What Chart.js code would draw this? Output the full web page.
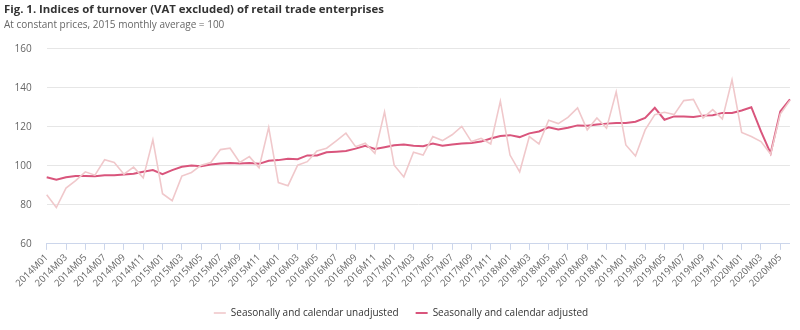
<!DOCTYPE html>
<html><head><meta charset="utf-8">
<script src="https://cdn.jsdelivr.net/npm/chart.js@4.4.1/dist/chart.umd.min.js"></script>
<style>html,body{margin:0;padding:0;background:#fff;} #wrap{width:800px;height:330px;position:relative;}</style>
</head><body><div id="wrap"><canvas id="c"></canvas></div>
<script>
const categories = [
"2014M01","2014M02","2014M03","2014M04","2014M05","2014M06","2014M07","2014M08","2014M09","2014M10","2014M11","2014M12",
"2015M01","2015M02","2015M03","2015M04","2015M05","2015M06","2015M07","2015M08","2015M09","2015M10","2015M11","2015M12",
"2016M01","2016M02","2016M03","2016M04","2016M05","2016M06","2016M07","2016M08","2016M09","2016M10","2016M11","2016M12",
"2017M01","2017M02","2017M03","2017M04","2017M05","2017M06","2017M07","2017M08","2017M09","2017M10","2017M11","2017M12",
"2018M01","2018M02","2018M03","2018M04","2018M05","2018M06","2018M07","2018M08","2018M09","2018M10","2018M11","2018M12",
"2019M01","2019M02","2019M03","2019M04","2019M05","2019M06","2019M07","2019M08","2019M09","2019M10","2019M11","2019M12",
"2020M01","2020M02","2020M03","2020M04","2020M05","2020M06"];
const unadjusted = [
85.2,78.6,88.6,92.4,96.9,95.2,103.1,101.7,95.7,99.3,93.8,113.3,
85.7,82.1,94.7,96.6,100.3,101.7,108.3,109.0,101.7,104.7,99.0,119.7,
91.4,89.8,100.3,102.1,107.6,109.0,112.8,116.7,109.8,111.6,106.4,127.6,
100.3,94.3,106.9,105.5,115.0,112.9,115.9,120.2,112.4,114.1,111.2,133.1,
105.5,96.9,115.0,111.2,123.3,121.6,124.8,129.7,118.4,124.5,119.3,137.9,
110.7,105.0,118.4,126.2,127.4,126.2,133.4,134.0,124.5,128.8,124.0,144.0,
117.1,115.0,112.4,106.0,126.5,133.5];
const adjusted = [
94.1,92.8,94.1,94.8,94.8,94.7,95.2,95.2,95.5,95.9,96.9,97.8,
95.7,97.8,99.5,100.2,99.8,100.7,101.2,101.4,101.2,101.4,101.0,102.6,
102.9,103.6,103.4,105.3,105.3,106.9,107.2,107.6,108.8,110.3,108.6,109.5,
110.5,110.9,110.3,110.0,111.4,110.3,110.9,111.4,111.7,112.4,114.0,115.3,
115.7,114.7,116.6,117.6,119.7,118.6,119.5,120.7,120.5,121.2,121.6,121.9,
121.9,122.6,124.5,129.7,123.6,125.3,125.2,125.0,125.7,125.9,127.1,127.1,
128.3,130.0,117.6,106.4,127.9,134.0];
const yTicks = [60, 80, 100, 120, 140, 160];
const seriesNames = ["Seasonally and calendar unadjusted", "Seasonally and calendar adjusted"];
const titleText = "Fig. 1. Indices of turnover (VAT excluded) of retail trade enterprises";
const subtitleText = "At constant prices, 2015 monthly average = 100";

const FONT = "'Open Sans', sans-serif";
new Chart(document.getElementById('c'), {
  type: 'line',
  data: {
    labels: categories,
    datasets: [
      { label: seriesNames[0], data: unadjusted, borderColor: '#f0c8cb', backgroundColor: '#f0c8cb',
        borderWidth: 1.6, pointRadius: 0, pointHoverRadius: 0, tension: 0, pointStyle: 'line' },
      { label: seriesNames[1], data: adjusted, borderColor: '#d9557c', backgroundColor: '#d9557c',
        borderWidth: 2, pointRadius: 0, pointHoverRadius: 0, tension: 0, pointStyle: 'line' }
    ]
  },
  options: {
    responsive: true, maintainAspectRatio: false, animation: false,
    layout: { padding: { left: 4, right: 2, top: 0, bottom: 2 } },
    plugins: {
      title: { display: true, text: titleText, align: 'start', color: '#333333',
        font: { family: FONT, size: 11.4, weight: 'bold' }, padding: { top: 3, bottom: 2 } },
      subtitle: { display: true, text: subtitleText, align: 'start', color: '#666666',
        font: { family: FONT, size: 10 }, padding: { top: 0, bottom: 18 } },
      legend: { position: 'bottom',
        labels: { usePointStyle: true, pointStyleWidth: 12, color: '#333333', padding: 17,
          font: { family: FONT, size: 10 } } },
      tooltip: { enabled: false }
    },
    scales: {
      x: {
        offset: false,
        grid: { drawOnChartArea: false, drawTicks: true, tickLength: 6,
          color: (ctx) => (ctx.index % 2 === 0 ? '#ccd6eb' : 'rgba(0,0,0,0)') },
        border: { display: true, color: '#ccd6eb' },
        ticks: { autoSkip: false, maxRotation: 45, minRotation: 45, color: '#666666', padding: 2,
          font: { family: FONT, size: 9.5 },
          callback: function(v, i) { return i % 2 === 0 ? this.getLabelForValue(v) : ''; } }
      },
      y: {
        min: 60, max: 160,
        afterBuildTicks: (s) => { s.ticks = yTicks.map(v => ({ value: v })); },
        afterFit: (s) => { s.width = 42.7; },
        grid: { color: '#e6e6e6', drawTicks: false },
        border: { display: false },
        ticks: { color: '#666666', padding: 15, font: { family: FONT, size: 10 } }
      }
    }
  }
});
</script>
</body></html>
